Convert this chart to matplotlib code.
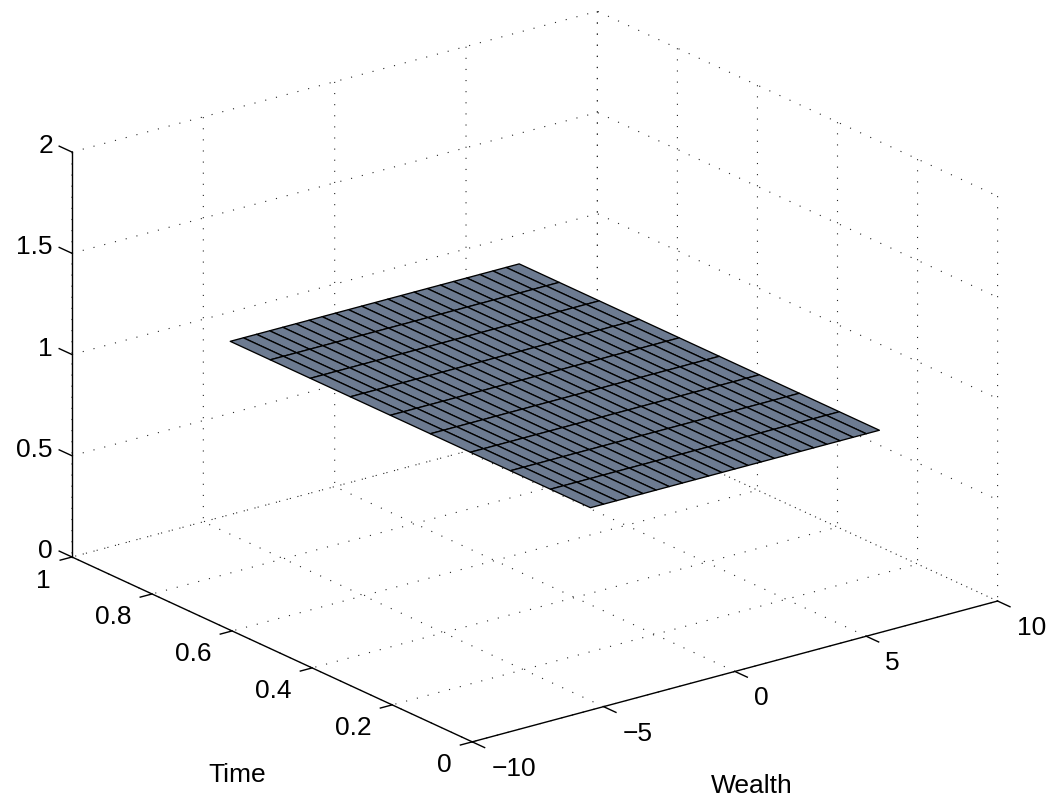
import numpy as np
import matplotlib
matplotlib.use('Agg')
import matplotlib.pyplot as plt
from mpl_toolkits.mplot3d import proj3d

# ---- data ----
wealth = [-5.5, -5.0, -4.5, -4.0, -3.5, -3.0, -2.5, -2.0, -1.5, -1.0, -0.5, 0.0,
          0.5, 1.0, 1.5, 2.0, 2.5, 3.0, 3.5, 4.0, 4.5, 5.0, 5.5]
time = [0.0, 0.1, 0.2, 0.3, 0.4, 0.5, 0.6, 0.7, 0.8, 0.9]
surface_level = 1.0

wealth_ticks = [-10, -5, 0, 5, 10]
wealth_ticklabels = ['\u221210', '\u22125', '0', '5', '10']
time_ticks = [0, 0.2, 0.4, 0.6, 0.8, 1]
time_ticklabels = ['0', '0.2', '0.4', '0.6', '0.8', '1']
z_ticks = [0, 0.5, 1, 1.5, 2]
z_ticklabels = ['0', '0.5', '1', '1.5', '2']

plt.rcParams['font.family'] = ['Liberation Sans', 'DejaVu Sans']
plt.rcParams['font.size'] = 19

FW, FH = 1051, 801
fig = plt.figure(figsize=(FW / 100, FH / 100), dpi=100)
ax = fig.add_axes([0, 0, 1, 1], projection='3d', proj_type='ortho')
ax.view_init(elev=20.6, azim=-127.3)
ax.set_box_aspect((1, 1, 0.655))

W, T = np.meshgrid(wealth, time)
Z = np.full_like(W, surface_level)
ax.plot_surface(W, T, Z, color='#6d7b91', edgecolor='k', linewidth=0.95,
                shade=False, rstride=1, cstride=1, antialiased=True)

# tick marks (MATLAB style, pointing outward)
for w in wealth_ticks:
    ax.plot([w, w], [0, -0.031], [0, 0], color='k', lw=1.0)
for t in time_ticks:
    ax.plot([-10, -10.45], [t, t], [0, 0], color='k', lw=1.0)
for zt in z_ticks:
    ax.plot([-10, -10], [1, 1.032], [zt, zt], color='k', lw=1.0)

ax.set_xlim(-10, 10)
ax.set_ylim(0, 1)
ax.set_zlim(0, 2)
ax.set_xticks(wealth_ticks)
ax.set_yticks(time_ticks)
ax.set_zticks(z_ticks)

for a in (ax.xaxis, ax.yaxis, ax.zaxis):
    a.set_pane_color((1, 1, 1, 0))
    a._axinfo['grid'].update(color='0.15', linewidth=0.8, linestyle=(0, (1, 9)))
    a._axinfo['tick'].update(inward_factor=0.0, outward_factor=0.0)
    a._axinfo['axisline']['linewidth'] = 1.0
    a.line.set_linewidth(1.0)
    a.set_tick_params(which='both', label1On=False, label2On=False)
    a.label.set_visible(False)
    a.offsetText.set_visible(False)
for t_ in (ax.title, ax._left_title, ax._right_title):
    t_.set_visible(False)

# ---- fit the projected box to the target layout ----
fig.canvas.draw()

def to_disp(x, y, z):
    xs, ys, _ = proj3d.proj_transform(x, y, z, ax.get_proj())
    return np.array(ax.transData.transform((xs, ys)))

PA = to_disp(-10, 1, 0)
PC = to_disp(10, 0, 0)
PZ = to_disp(-10, 1, 2)
TA = np.array([72, FH - 557])
TC = np.array([998, FH - 601])
TZ = np.array([72, FH - 153])
pv = [PC - PA, PZ - PA]
tv = [TC - TA, TZ - TA]
k = sum(np.dot(t, p) for t, p in zip(tv, pv)) / sum(np.dot(p, p) for p in pv)
bb = ax.get_position()
o0 = np.array([bb.x0 * FW, bb.y0 * FH])
L0 = bb.width * FW
L = k * L0
o = TA - k * (PA - o0)
ax.set_position([o[0] / FW, o[1] / FH, L / FW, L / FH])
fig.canvas.draw()

# ---- labels (pixel offsets from their projected 3D anchor points) ----
def label(x, y, z, s, dx, dy, ha):
    p = to_disp(x, y, z)
    fig.text((p[0] + dx) / FW, (p[1] + dy) / FH, s, ha=ha, va='baseline',
             fontsize=19)

for w, s in zip(wealth_ticks, wealth_ticklabels):
    label(w, 0, 0, s, 19, -34, 'left')
for t, s in zip(time_ticks, time_ticklabels):
    label(-10, t, 0, s, -21, -30.5, 'right')
for zt, s in zip(z_ticks, z_ticklabels):
    label(-10, 1, zt, s, -19, -1, 'right')
label(0, 0, 0, 'Wealth', 16.5, -121.5, 'center')
label(-10, 0.5, 0, 'Time', -35, -132.5, 'center')

fig.savefig('out.png', dpi=100)
